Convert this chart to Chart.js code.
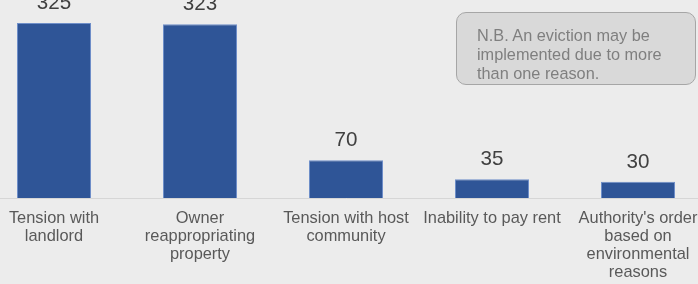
<!DOCTYPE html>
<html>
<head>
<meta charset="utf-8">
<script src="https://cdn.jsdelivr.net/npm/chart.js@4"></script>
<style>
  html, body { margin: 0; padding: 0; background: #ececec; width: 698px; height: 284px; overflow: hidden; }
  #wrap { position: absolute; left: -19px; top: -20px; width: 730px; height: 310px; }
  #note {
    position: absolute; left: 456px; top: 12px; width: 218px; height: 53px;
    padding: 13px 0 5px 20px;
    background: #d9d9d9; border: 1px solid #a6a6a6; border-radius: 10px;
    font-family: "Liberation Sans", Arial, sans-serif; font-size: 16.3px; line-height: 19px;
    color: #7f7f7f;
  }
</style>
</head>
<body>
<div id="wrap"><canvas id="evictChart"></canvas></div>
<div id="note">N.B. An eviction may be<br>implemented due to more<br>than one reason.</div>
<script>
const categories = [
    ["Tension with", "landlord"],
    ["Owner", "reappropriating", "property"],
    ["Tension with host", "community"],
    ["Inability to pay rent"],
    ["Authority's order", "based on", "environmental", "reasons"],
];
const evictions = [325, 323, 70, 35, 30];

// numbers above each bar
const valueLabels = {
    id: "valueLabels",
    afterDatasetsDraw(chart) {
        const ctx = chart.ctx;
        const meta = chart.getDatasetMeta(0);
        ctx.save();
        ctx.font = "20.6px 'Liberation Sans', Arial, sans-serif";
        ctx.fillStyle = "#404040";
        ctx.textAlign = "center";
        ctx.textBaseline = "alphabetic";
        meta.data.forEach((bar, i) => {
            ctx.fillText(evictions[i], bar.x, bar.y - 14);
        });
        ctx.restore();
    },
};

const ctx = document.getElementById("evictChart").getContext("2d");
new Chart(ctx, {
    type: "bar",
    data: {
        labels: categories,
        datasets: [
            {
                data: evictions,
                backgroundColor: "#2f5597",
                borderColor: "#6f8fc9",
                borderWidth: 1,
                categoryPercentage: 1,
                barPercentage: 0.507,
            },
        ],
    },
    options: {
        responsive: true,
        maintainAspectRatio: false,
        animation: false,
        layout: { padding: 0 },
        plugins: {
            legend: { display: false },
            tooltip: { enabled: false },
        },
        scales: {
            x: {
                afterFit: (s) => { s.height = 92; },
                grid: { display: false, drawTicks: false },
                border: { display: true, color: "#d6d6d6", width: 1 },
                ticks: {
                    padding: 11.5,
                    maxRotation: 0,
                    autoSkip: false,
                    color: "#595959",
                    font: { family: "'Liberation Sans', Arial, sans-serif", size: 16.4, lineHeight: 1.0976 },
                },
            },
            y: {
                display: false,
                min: 0,
                max: 405,
            },
        },
    },
    plugins: [valueLabels],
});
</script>
</body>
</html>
